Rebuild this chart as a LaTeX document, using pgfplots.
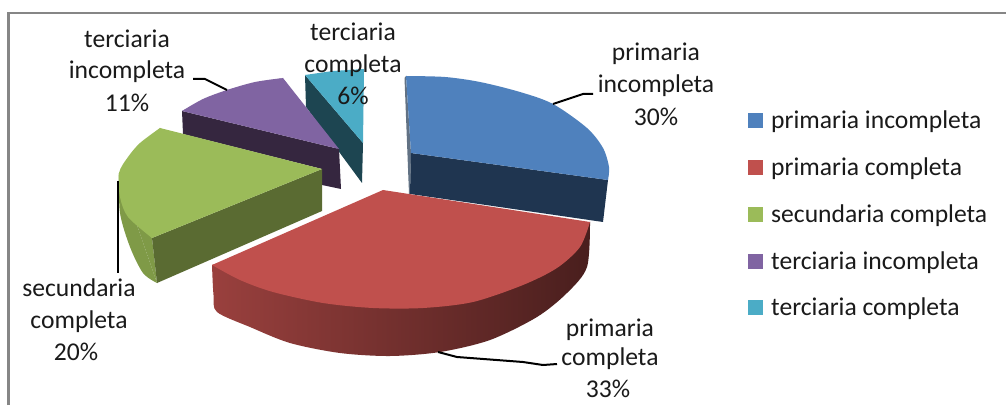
\documentclass[border=0pt]{standalone}
\usepackage{pgfplots}
\pgfplotsset{compat=1.18}
\usepackage{fontspec}
\setmainfont{Carlito}
\definecolor{cb}{HTML}{4F81BD}\definecolor{cbd}{HTML}{1F3550}
\definecolor{cr}{HTML}{C0504D}
\definecolor{cg}{HTML}{9BBB59}\definecolor{cgd}{HTML}{5A6B32}\definecolor{cgm}{HTML}{7F9A47}
\definecolor{cp}{HTML}{8064A2}\definecolor{cpd}{HTML}{35263F}
\definecolor{ct}{HTML}{4BACC6}\definecolor{ctd}{HTML}{1D4551}
\definecolor{frame}{HTML}{868686}\definecolor{txt}{HTML}{1A1A1A}
\begin{document}
\begin{tikzpicture}
\begin{axis}[
  at={(0,0)},anchor=south west,
  width=1006bp,height=405bp,scale only axis,
  xmin=0,xmax=1006,ymin=-405,ymax=0,
  hide axis,clip=true,
  legend cell align=left,
  legend style={at={(axis cs:748,-109)},anchor=north west,draw=none,fill=none,
    font=\fontsize{25.6bp}{29bp}\selectfont\color{txt},inner sep=0pt,
    row sep=23.5bp,column sep=6bp},
  legend image code/.code={\fill[#1] (0bp,-7.5bp) rectangle (15bp,7.5bp);},
  every axis plot/.append style={draw=none,line width=0pt,forget plot,no marks},
]
% legend keys
\addlegendimage{fill=cb}
\addlegendimage{fill=cr}
\addlegendimage{fill=cg}
\addlegendimage{fill=cp}
\addlegendimage{fill=ct}
\legend{primaria incompleta,primaria completa,secundaria completa,terciaria incompleta,terciaria completa}
% page
\addplot[fill=white] coordinates {(0,0)(1006,0)(1006,-405)(0,-405)} -- cycle;
% frame
\addplot[draw=frame,line width=2.5bp] coordinates {(8.7,-405)(8.7,-13.2)(1006,-13.2)};
% terciaria completa (teal)
\addplot[fill=ctd] coordinates {(305,-75)(363,-143)(362,-183)(306,-107)} -- cycle;
\addplot[fill=ct] coordinates {(305,-75)(333,-71)(364,-69)(363,-143)} -- cycle;
% terciaria incompleta (purple)
\addplot[fill=cpd] coordinates {(182,-111)(339,-149)(341,-189)(322,-185)(322,-169)(183,-134)} -- cycle;
\addplot[fill=cp] coordinates {(182,-111)(227,-90)(283,-78)(339,-149)} -- cycle;
\addplot[fill=cp,smooth] coordinates {(182,-111)(203,-99)(227,-90)(255,-82)(283,-78)};
% secundaria completa (green)
\addplot[fill=cgm] coordinates {(119,-173)(157,-283)(152,-238)} -- cycle;
\addplot[fill=cgm,smooth] coordinates {(119,-173)(120,-213)(130,-247)(143,-273)(157,-283)};
\addplot[fill=cgd] coordinates {(152,-238)(322,-169)(322,-211)(157,-283)} -- cycle;
\addplot[fill=cg] coordinates {(160,-128)(322,-169)(152,-238)(120,-190)(119,-173)} -- cycle;
\addplot[fill=cg,smooth] coordinates {(160,-128)(140,-143)(128,-157)(119,-173)(120,-197)(128,-217)(152,-238)};
% primaria incompleta (blue)
\addplot[fill=cbd!70!white] coordinates {(404.5,-78)(406,-76)(411,-153)(410,-194)(409,-194)} -- cycle;
\addplot[fill=cbd] coordinates {(411,-153)(608,-180)(603,-222)(410,-194)} -- cycle;
\addplot[fill=cb] coordinates {(406,-76)(553,-104)(608,-180)(411,-153)} -- cycle;
\addplot[fill=cb,smooth] coordinates {(406,-76)(445,-77)(480,-82)(520,-92)(553,-104)(587,-128)(603,-148)(609,-167)(608,-180)};
% primaria completa (red)
\addplot[smooth,left color=cr!80!black,middle color=cr!55!black,right color=cr!38!black]
 coordinates {(212,-265)(213.5,-295)(217,-312)(250,-327)(290,-343)(340,-353)(390,-356)(440,-352)(490,-340)(537,-317)(567,-293)(587,-267)(590,-222)};
\addplot[fill=cr] coordinates {(383,-190)(590,-222)(423,-308)(212,-265)} -- cycle;
\addplot[fill=cr,smooth] coordinates {(590,-222)(580,-247)(557,-268)(523,-285)(473,-302)(423,-308)(373,-308)(323,-303)(273,-292)(240,-280)(212,-265)};
% leader lines
\addplot[draw=black,line width=2bp] coordinates {(553,-104)(583,-94)(593,-94)};
\addplot[draw=black,line width=2bp] coordinates {(438,-352)(457,-357)(523,-362)(543,-365)(557,-364)};
\addplot[draw=black,line width=2bp] coordinates {(118,-181)(118,-273)};
\addplot[draw=black,line width=2bp] coordinates {(193,-79)(205,-79)(227,-90)};
% data labels
\tikzset{lab/.style={font=\fontsize{25.6bp}{29bp}\selectfont,text=txt,inner sep=0pt,anchor=base}}
\node[lab] at (axis cs:656,-61) {primaria};
\node[lab] at (axis cs:656,-93) {incompleta};
\node[lab] at (axis cs:656,-126) {30\%};
\node[lab] at (axis cs:610,-336) {primaria};
\node[lab] at (axis cs:610,-365) {completa};
\node[lab] at (axis cs:608,-397) {33\%};
\node[lab] at (axis cs:79,-296) {secundaria};
\node[lab] at (axis cs:79,-328) {completa};
\node[lab] at (axis cs:76,-360) {20\%};
\node[lab] at (axis cs:127,-48) {terciaria};
\node[lab] at (axis cs:127,-79) {incompleta};
\node[lab] at (axis cs:127,-112) {11\%};
\node[lab] at (axis cs:353,-41) {terciaria};
\node[lab] at (axis cs:353,-73) {completa};
\node[lab] at (axis cs:353,-105) {6\%};
\end{axis}
\end{tikzpicture}
\end{document}
